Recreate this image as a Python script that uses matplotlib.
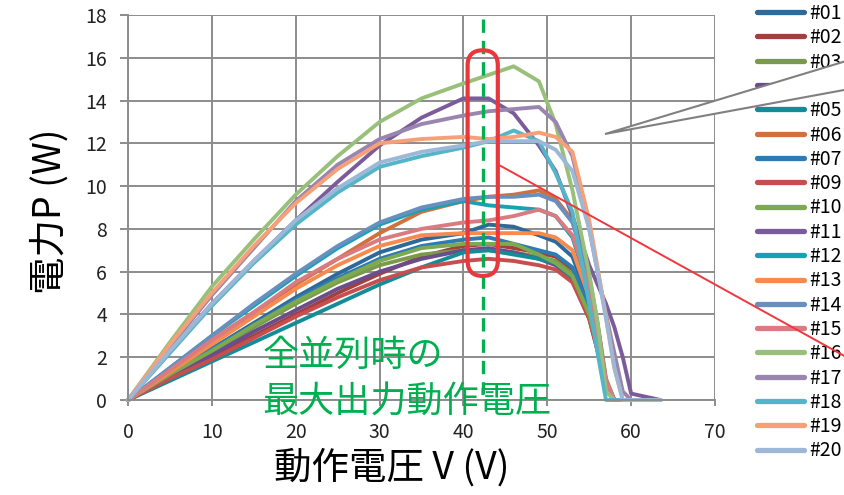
import numpy as np
import matplotlib
matplotlib.use("Agg")
import matplotlib.pyplot as plt
from matplotlib.patches import FancyBboxPatch, Polygon
from matplotlib.lines import Line2D

plt.rcParams['font.family'] = ['Noto Sans CJK JP', 'DejaVu Sans']

# operating voltage grid (V), shared by every module curve
volts = [0, 5, 10, 15, 20, 25, 30, 35, 40, 43, 46, 49, 51, 53, 55, 56, 57, 58, 59, 60, 63.5]

# measured power (W) per module
p01 = [0, 1.2, 2.4, 3.6, 4.8, 5.9, 6.9, 7.5, 7.8, 8.2, 8.1, 7.7, 7.4, 6.7, 4.6, 2.8, 0.8, 0, 0, 0, 0]
p02 = [0, 1.0, 2.0, 3.0, 4.0, 5.0, 5.9, 6.7, 7.2, 7.3, 7.1, 6.9, 6.7, 6.1, 4.2, 2.6, 0.7, 0, 0, 0, 0]
p03 = [0, 1.1, 2.2, 3.4, 4.5, 5.5, 6.3, 6.8, 7.0, 7.0, 6.9, 6.7, 6.5, 5.9, 4.0, 2.5, 0.6, 0, 0, 0, 0]
p04 = [0, 1.1, 2.1, 3.2, 4.2, 5.2, 6.0, 6.6, 7.0, 7.1, 6.9, 6.6, 6.3, 5.6, 3.8, 2.3, 0.6, 0, 0, 0, 0]
p05 = [0, 0.9, 1.8, 2.7, 3.6, 4.5, 5.4, 6.2, 6.9, 7.0, 6.8, 6.6, 6.4, 5.7, 3.9, 2.4, 0.5, 0, 0, 0, 0]
p06 = [0, 1.4, 2.8, 4.1, 5.4, 6.6, 7.8, 8.8, 9.3, 9.5, 9.6, 9.8, 9.4, 8.4, 5.8, 3.6, 1.0, 0, 0, 0, 0]
p07 = [0, 1.2, 2.4, 3.5, 4.7, 5.7, 6.6, 7.2, 7.5, 7.6, 7.3, 7.0, 6.8, 6.2, 4.3, 2.7, 0.7, 0, 0, 0, 0]
p09 = [0, 1.0, 1.9, 2.9, 3.9, 4.8, 5.6, 6.2, 6.5, 6.6, 6.5, 6.3, 6.1, 5.5, 3.8, 2.3, 0.5, 0, 0, 0, 0]
p10 = [0, 1.2, 2.3, 3.5, 4.6, 5.6, 6.5, 7.1, 7.3, 7.3, 7.3, 6.8, 6.4, 5.8, 4.0, 2.5, 0.6, 0, 0, 0, 0]
p11 = [0, 2.3, 4.5, 6.5, 8.4, 10.2, 11.9, 13.2, 14.1, 14.1, 13.4, 11.9, 10.7, 8.6, 6.3, 5.4, 4.5, 3.4, 2.0, 0.3, 0]
p12 = [0, 1.5, 3.0, 4.4, 5.8, 7.1, 8.2, 8.9, 9.3, 9.1, 9.0, 8.9, 8.6, 7.6, 5.1, 3.1, 0.8, 0, 0, 0, 0]
p13 = [0, 1.3, 2.6, 3.9, 5.2, 6.3, 7.2, 7.7, 7.8, 7.8, 7.8, 7.8, 7.6, 7.0, 4.8, 3.0, 0.8, 0, 0, 0, 0]
p14 = [0, 1.5, 3.0, 4.5, 5.9, 7.2, 8.3, 9.0, 9.4, 9.5, 9.5, 9.6, 9.3, 8.3, 5.7, 3.5, 0.9, 0, 0, 0, 0]
p15 = [0, 1.4, 2.8, 4.1, 5.5, 6.6, 7.5, 8.0, 8.3, 8.4, 8.6, 8.9, 8.6, 7.7, 5.3, 3.3, 0.9, 0, 0, 0, 0]
p16 = [0, 2.7, 5.3, 7.5, 9.6, 11.4, 13.0, 14.1, 14.8, 15.2, 15.6, 14.9, 12.9, 9.8, 5.9, 3.6, 0.4, 0, 0, 0, 0]
p17 = [0, 2.5, 4.9, 7.1, 9.3, 11.0, 12.2, 12.9, 13.3, 13.5, 13.6, 13.7, 13.0, 11.4, 8.0, 6.0, 4.0, 2.2, 0.4, 0, 0]
p18 = [0, 2.2, 4.4, 6.4, 8.2, 9.7, 10.9, 11.4, 11.8, 12.1, 12.6, 12.1, 10.6, 8.8, 4.5, 2.2, 0, 0, 0, 0, 0]
p19 = [0, 2.6, 5.0, 7.2, 9.2, 10.8, 12.0, 12.2, 12.3, 12.2, 12.3, 12.5, 12.3, 11.6, 8.4, 6.2, 3.9, 1.5, 0, 0, 0]
p20 = [0, 2.3, 4.5, 6.5, 8.4, 9.9, 11.1, 11.6, 11.9, 12.1, 12.1, 12.1, 11.7, 10.7, 8.0, 6.0, 3.8, 1.5, 0, 0, 0]

labels = ['#01', '#02', '#03', '#04', '#05', '#06', '#07', '#09', '#10', '#11',
          '#12', '#13', '#14', '#15', '#16', '#17', '#18', '#19', '#20']
powers = [p01, p02, p03, p04, p05, p06, p07, p09, p10, p11,
          p12, p13, p14, p15, p16, p17, p18, p19, p20]
colors = ['#2E6A99', '#A0403F', '#7A9A4A', '#6B4D8A', '#148C98', '#D0703C',
          '#2E7AB5', '#C84D4E', '#7DAA4F', '#7B5C9A', '#17A2B3', '#F78A4E',
          '#6890BF', '#D97B80', '#98C07A', '#9A85B0', '#55B5C8', '#F7A078',
          '#9DB8D6']

mpp_volt = 42.3          # operating voltage with all modules in parallel
mpp_box = (40.5, 44.1, 5.8, 16.35)

W, H = 844, 495
fig = plt.figure(figsize=(W / 100, H / 100), dpi=100)
ax = fig.add_axes([128 / W, 95 / H, 587 / W, 385 / H])

grid_c = '#8C8C8C'
ax.set_xlim(0, 70)
ax.set_ylim(0, 18)
ax.set_xticks(np.arange(0, 71, 10))
ax.set_yticks(np.arange(0, 19, 2))
ax.grid(True, color=grid_c, linewidth=1.4)
ax.set_axisbelow(True)
for s in ['top', 'right']:
    ax.spines[s].set_visible(False)
for s in ['left', 'bottom']:
    ax.spines[s].set_color(grid_c)
    ax.spines[s].set_linewidth(1.4)
ax.tick_params(axis='y', length=6, width=1.4, color=grid_c, pad=9,
               labelsize=14, labelcolor='#222222')
ax.tick_params(axis='x', length=4, width=1.4, color=grid_c, pad=12,
               labelsize=14, labelcolor='#222222')

handles = []
for lab, p, c in zip(labels, powers, colors):
    ax.plot(volts, p, color=c, linewidth=2.8, clip_on=False,
            solid_capstyle='round', solid_joinstyle='round', label=lab)
    handles.append(Line2D([], [], color=c, linewidth=3.8, solid_capstyle='round'))

ax.set_xlabel('動作電圧 V (V)', fontsize=27)
ax.set_ylabel('電力P (W)', fontsize=27)
ax.xaxis.set_label_coords(0.45, -0.125)
ax.yaxis.set_label_coords(-0.10, 0.49)

# dashed line at the parallel operating point
ax.plot([mpp_volt, mpp_volt], [17.8, 0.3], color='#00B050', linewidth=2.4,
        dashes=(4, 2.4), zorder=5)

# stadium-shaped highlight around the operating point
x0, x1, y0, y1 = mpp_box
px_per_x = ax.transData.transform((1, 0))[0] - ax.transData.transform((0, 0))[0]
px_per_y = ax.transData.transform((0, 1))[1] - ax.transData.transform((0, 0))[1]
aspect = px_per_x / px_per_y
r = (x1 - x0) / 2
box = FancyBboxPatch((x0, y0), x1 - x0, y1 - y0,
                     boxstyle='round,pad=0,rounding_size=%f' % r,
                     mutation_aspect=aspect, fill=False, edgecolor='#E8383D',
                     linewidth=3.0, zorder=6, clip_on=False)
ax.add_patch(box)

ax.text(16.0, 2.05, '全並列時の', color='#00B050', fontsize=26,
        ha='left', va='center', zorder=7)
ax.text(16.0, -0.1, '最大出力動作電圧', color='#00B050', fontsize=26,
        ha='left', va='center', zorder=7, clip_on=False)

fig.legend(handles, labels, loc='upper left', bbox_to_anchor=(757 / W, 1 - 3 / H),
           frameon=False, fontsize=14, handlelength=2.4, handletextpad=0.3,
           labelspacing=0.17, borderpad=0, borderaxespad=0)

# callout wedge pointing into the plot, partly over the legend
def fp(x, y):
    return (x / W, 1 - y / H)

wedge = Polygon([fp(605, 134), fp(950, 29.6), fp(950, 70.5)], closed=True,
                facecolor='white', edgecolor='#808080', linewidth=1.5,
                transform=fig.transFigure, zorder=10)
fig.add_artist(wedge)

# red leader from the highlight box to the legend
lead = Line2D([499 / W, 900 / W], [1 - 165 / H, 1 - (165 + 0.553 * 401) / H],
              color='#F0363E', linewidth=1.4, transform=fig.transFigure, zorder=11)
fig.add_artist(lead)

fig.savefig('out.png', dpi=100)
